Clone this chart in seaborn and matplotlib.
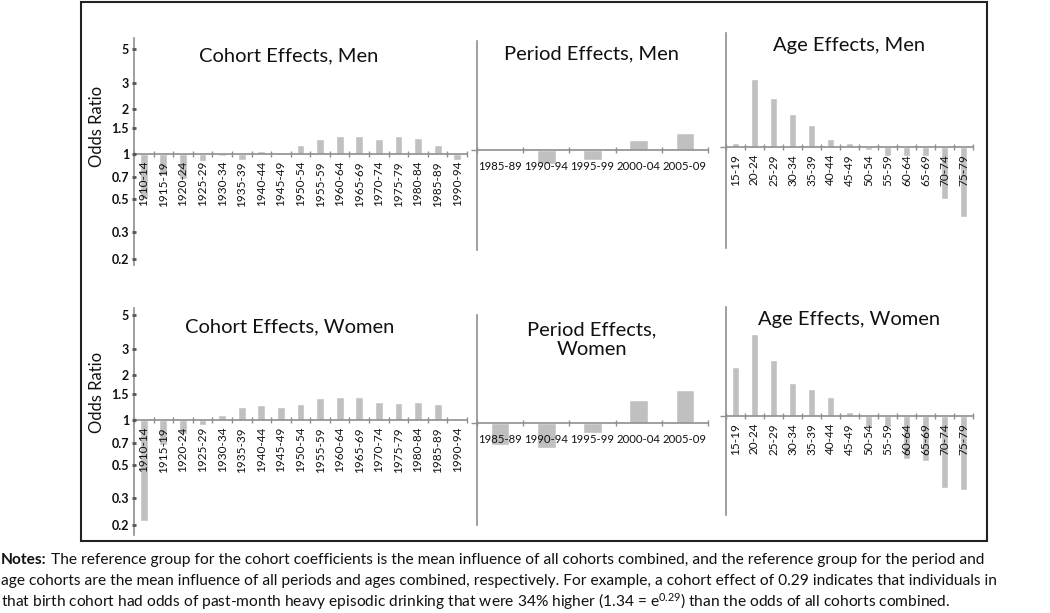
import numpy as np
import pandas as pd
import matplotlib
matplotlib.use("Agg")
import matplotlib.pyplot as plt
import seaborn as sns

# Odds ratios (bars are drawn on the log-odds scale)
cohorts = ["1910-14", "1915-19", "1920-24", "1925-29", "1930-34", "1935-39",
           "1940-44", "1945-49", "1950-54", "1955-59", "1960-64", "1965-69",
           "1970-74", "1975-79", "1980-84", "1985-89", "1990-94"]
cohort_men = [0.50, 0.72, 0.68, 0.90, 0.97, 0.91, 1.04, 1.01, 1.14, 1.26,
              1.31, 1.31, 1.26, 1.31, 1.28, 1.14, 0.91]
cohort_women = [0.21, 0.68, 0.81, 0.92, 1.085, 1.23, 1.25, 1.23, 1.27, 1.40,
                1.42, 1.42, 1.32, 1.29, 1.32, 1.27, 0.99]

periods = ["1985-89", "1990-94", "1995-99", "2000-04", "2005-09"]
period_men = [1.0, 0.81, 0.86, 1.17, 1.29]
period_women = [0.71, 0.68, 0.86, 1.43, 1.67]

ages = ["15-19", "20-24", "25-29", "30-34", "35-39", "40-44", "45-49",
        "50-54", "55-59", "60-64", "65-69", "70-74", "75-79"]
age_men = [1.06, 2.86, 2.14, 1.66, 1.40, 1.13, 1.06, 0.95, 0.87, 0.87, 0.87, 0.45, 0.34]
age_women = [2.12, 3.55, 2.35, 1.66, 1.51, 1.34, 1.07, 0.84, 0.84, 0.52, 0.50, 0.33, 0.32]

or_ticks = [0.2, 0.3, 0.5, 0.7, 1, 1.5, 2, 3, 5]
or_tick_labels = ["0.2", "0.3", "0.5", "0.7", "1", "1.5", "2", "3", "5"]

notes_lines = [
    " The reference group for the cohort coefficients is the mean influence of all cohorts combined, and the reference group for the period and",
    "age cohorts are the mean influence of all periods and ages combined, respectively. For example, a cohort effect of 0.29 indicates that individuals in",
    "that birth cohort had odds of past-month heavy episodic drinking that were 34% higher (1.34 = e$^{0.29}$) than the odds of all cohorts combined.",
]

sns.set_theme(style="white")
plt.rcParams['font.family'] = ['Lato', 'DejaVu Sans']
plt.rcParams['mathtext.fontset'] = 'custom'
plt.rcParams['mathtext.rm'] = 'Lato'
plt.rcParams['mathtext.it'] = 'Lato:italic'

W, H = 1050, 613
BAR = "#c0c0c0"
AXIS = "#8f8f8f"
TXT = "#111111"
SCALE = 65.0  # px per log unit

fig = plt.figure(figsize=(W / 100, H / 100), dpi=100)


def px(x, y):
    return x / W, 1 - y / H


def panel(x0, y0, x1, y1, base, cats, vals, rotate, show_y=False):
    ax = fig.add_axes([x0 / W, 1 - y1 / H, (x1 - x0) / W, (y1 - y0) / H])
    df = pd.DataFrame({"group": cats, "log_or": np.log(vals)})
    sns.barplot(data=df, x="group", y="log_or", order=cats, color=BAR,
                saturation=1, width=0.4, ax=ax)
    n = len(cats)
    ax.set_axisbelow(False)  # labels sit on top of the bars, as in Excel
    ax.set_xlim(-0.5, n - 0.5)
    ax.set_ylim(-(y1 - base) / SCALE, (base - y0) / SCALE)
    ax.set_xlabel("")
    ax.set_ylabel("")
    ax.set_facecolor("none")
    for s in ["top", "right"]:
        ax.spines[s].set_visible(False)
    ax.spines["bottom"].set_position(("data", 0))
    for s in ["bottom", "left"]:
        ax.spines[s].set_color(AXIS)
        ax.spines[s].set_linewidth(1.2)
    ax.set_xticks(range(n))
    ax.set_xticklabels(cats, rotation=90 if rotate else 0,
                       fontsize=8.5 if rotate else 8.2, color=TXT)
    ax.set_xticks(np.arange(-0.5, n, 1), minor=True)
    ax.tick_params(axis="x", which="major", length=0, pad=5 if rotate else 8)
    ax.tick_params(axis="x", which="minor", length=5, width=1,
                   direction="inout", color=AXIS, bottom=True)
    if show_y:
        ax.set_yticks(np.log(or_ticks))
        ax.set_yticklabels(or_tick_labels, fontsize=9, fontweight="bold", color=TXT)
        ax.tick_params(axis="y", length=3, width=2, direction="inout",
                       color="#555555", left=True, pad=2)
    else:
        ax.set_yticks([0])
        ax.set_yticklabels([""])
        ax.tick_params(axis="y", length=4, width=1, direction="out",
                       color=AXIS, left=True)
    return ax


# top row: men
panel(134, 38, 467, 265, 154, cohorts, cohort_men, True, show_y=True)
panel(477, 41, 708, 250, 150, periods, period_men, False)
panel(726, 33, 973, 248, 147, ages, age_men, True)
# bottom row: women
panel(134, 308, 467, 535, 420, cohorts, cohort_women, True, show_y=True)
panel(477, 315, 708, 525, 423, periods, period_women, False)
panel(726, 307, 973, 515, 416, ages, age_women, True)

title_kw = dict(fontsize=14.5, ha="center", va="center", color=TXT)
fig.text(*px(289, 56), "Cohort Effects, Men", **title_kw)
fig.text(*px(592, 54), "Period Effects, Men", **title_kw)
fig.text(*px(849, 46), "Age Effects, Men", **title_kw)
fig.text(*px(290, 327), "Cohort Effects, Women", **title_kw)
fig.text(*px(592, 340), "Period Effects,\nWomen", linespacing=1.2, **title_kw)
fig.text(*px(849, 319), "Age Effects, Women", **title_kw)

for yc in [126, 392]:
    fig.text(*px(97, yc), "Odds Ratio", rotation=90, fontsize=12,
             ha="center", va="center", color=TXT)

# outer frame
fig.add_artist(plt.Rectangle(px(81, 541), (987 - 81) / W, (541 - 2) / H,
                             fill=False, ec="#222222", lw=1.5,
                             transform=fig.transFigure))

# notes below the frame
renderer = fig.canvas.get_renderer()
note_kw = dict(fontsize=11.2, va="center", color=TXT)
bold = fig.text(*px(1, 560), "Notes:", fontweight="bold", **note_kw)
x_end = bold.get_window_extent(renderer).x1
fig.text(x_end / W, 1 - 560 / H, notes_lines[0], **note_kw)
fig.text(*px(1, 581), notes_lines[1], **note_kw)
fig.text(*px(1, 602), notes_lines[2], **note_kw)

fig.savefig("out.png", dpi=100)
